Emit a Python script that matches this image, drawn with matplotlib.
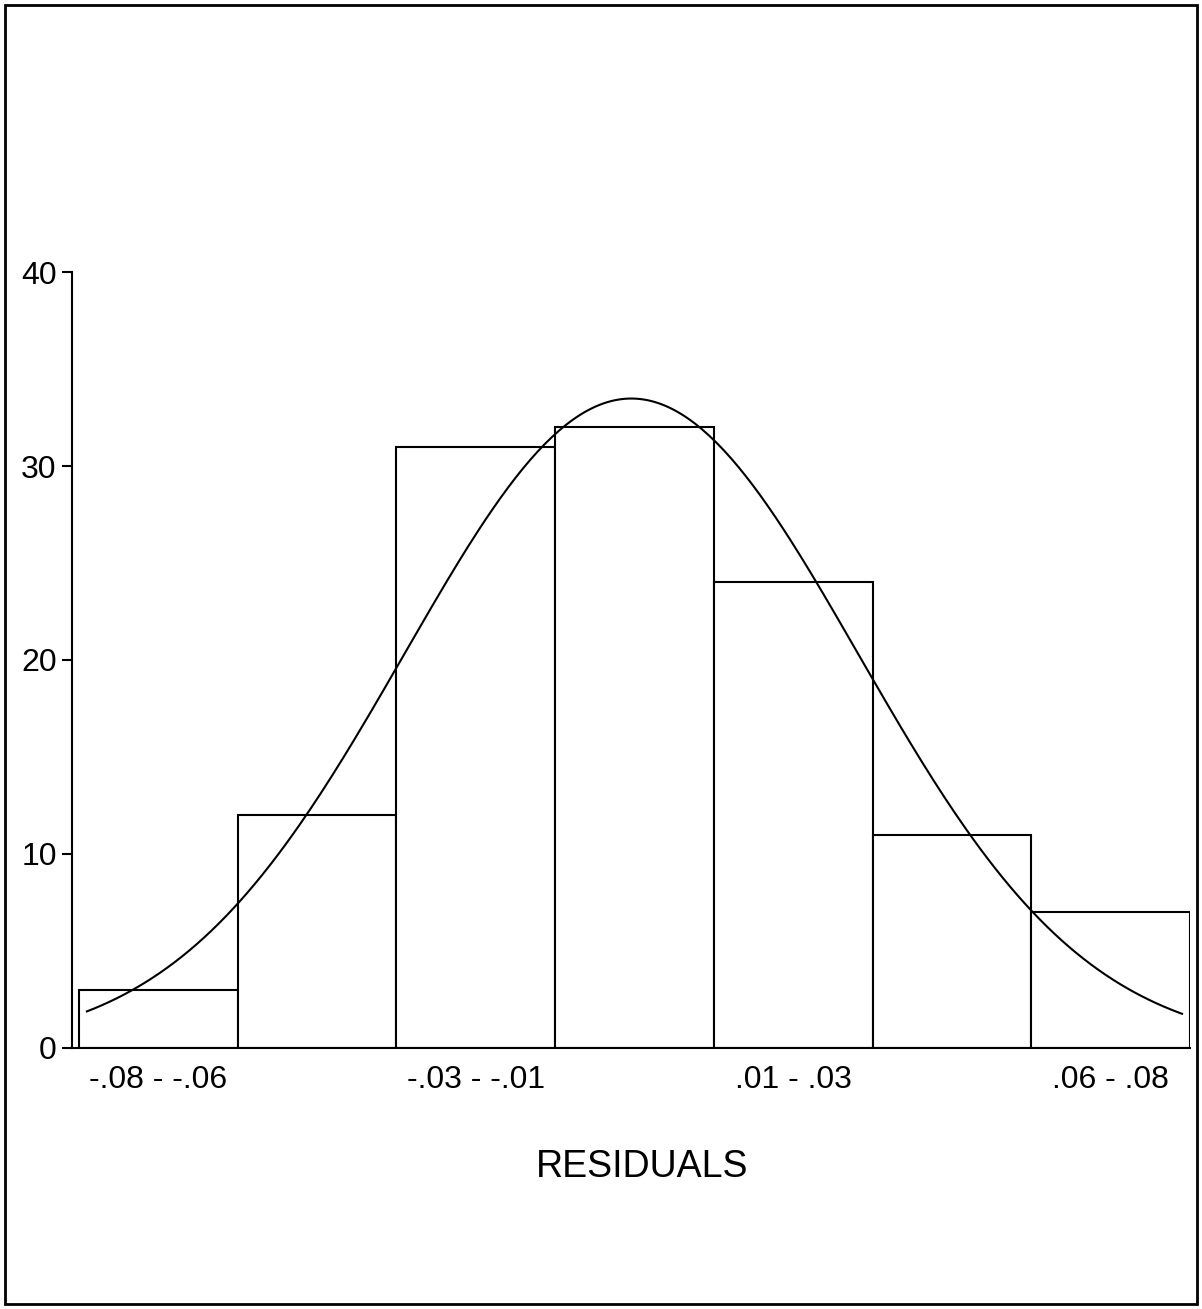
#! /usr/bin/env python3

"""
Histogram of residuals with a fitted normal curve.
"""

import numpy as np
import matplotlib
matplotlib.use("Agg")
import matplotlib.pyplot as plt
from matplotlib.patches import Rectangle

# bin counts (7 bins, -.08 to .08)
counts = [3, 12, 31, 32, 24, 11, 7]
tick_labels = ["-.08 - -.06", "", "-.03 - -.01", "", ".01 - .03", "", ".06 - .08"]
y_ticks = [0, 10, 20, 30, 40]

# normal curve parameters, in bin units
curve_mean = 2.98
curve_sd = 1.43


def normal_curve(x, total, mean, sd):
    """Expected count per bin of width 1 for a normal distribution"""
    return total / (sd * np.sqrt(2 * np.pi)) * np.exp(-0.5 * ((x - mean) / sd) ** 2)


def main():
    plt.rcParams["font.family"] = ["Liberation Sans", "DejaVu Sans"]

    fig = plt.figure(figsize=(12.02, 13.09), dpi=100)
    ax = fig.add_axes([0.0599, 0.1994, 0.9301, 0.5928])

    pos = np.arange(len(counts))
    ax.bar(pos, counts, width=1.0, color="white", edgecolor="black", linewidth=1.5)

    xs = np.linspace(-0.45, 6.45, 300)
    ax.plot(xs, normal_curve(xs, sum(counts), curve_mean, curve_sd),
            color="black", linewidth=1.5)

    ax.set_xlim(-0.544, 6.5)
    ax.set_ylim(0, 40)
    ax.set_yticks(y_ticks)
    ax.set_xticks(pos)
    ax.set_xticklabels(tick_labels)
    ax.tick_params(axis="x", length=0, pad=12, labelsize=23)
    ax.tick_params(axis="y", length=7, width=1.5, pad=4, labelsize=23)

    for side in ["top", "right"]:
        ax.spines[side].set_visible(False)
    for side in ["left", "bottom"]:
        ax.spines[side].set_linewidth(1.5)

    fig.text(0.534, 1 - 1167 / 1309, "RESIDUALS", ha="center", va="center",
             fontsize=27)

    # frame round the whole page
    fig.patches.append(Rectangle((0.004, 0.004), 0.992, 0.992, transform=fig.transFigure,
                                 fill=False, edgecolor="black", linewidth=2))

    fig.savefig("out.png", dpi=100)
    plt.close(fig)


if __name__ == "__main__":
    main()
